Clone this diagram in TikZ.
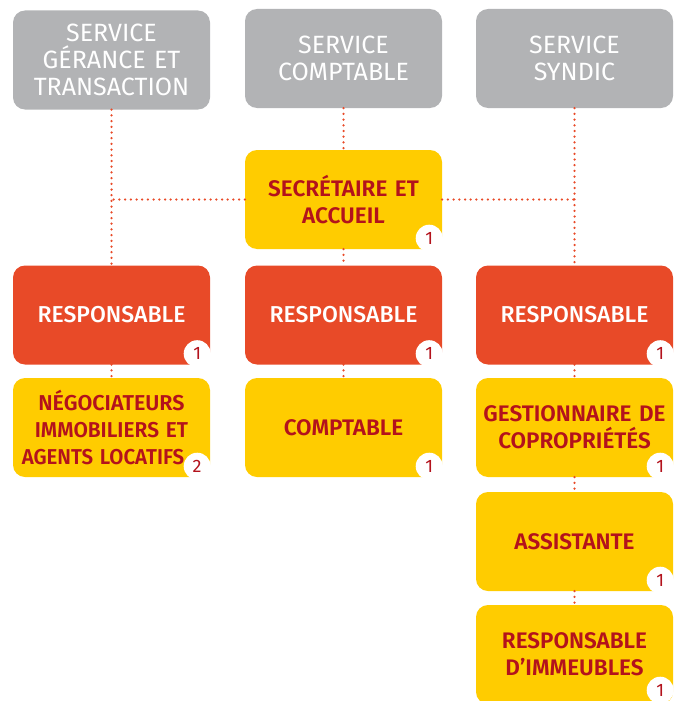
\documentclass[tikz,border=0pt]{standalone}
\usepackage{fontspec}
\setmainfont{Fira Sans}
\newfontfamily\firamed{Fira Sans}[UprightFont={* Medium}, BoldFont={* SemiBold}]
\usetikzlibrary{calc}
\definecolor{cgray}{HTML}{B2B3B5}
\definecolor{corange}{HTML}{E84A28}
\definecolor{cyellow}{HTML}{FFCC00}
\definecolor{cred}{HTML}{B3121C}
\definecolor{cdot}{HTML}{E84A28}
\tikzset{
  box/.style={rounded corners=12pt, minimum width=197pt, minimum height=99pt,
    align=center, inner sep=0pt, text width=195pt},
  graybox/.style={box, fill=cgray, text=white, font=\fontsize{25}{27}\selectfont},
  orangebox/.style={box, fill=corange, text=white, font=\firamed\fontsize{23}{27}\selectfont},
  yellowbox/.style={box, fill=cyellow, text=cred, font=\firamed\bfseries\fontsize{22.5}{27}\selectfont},
  badge/.style={circle, fill=white, minimum size=27pt, inner sep=0pt, text=cred,
    font=\fontsize{18}{18}\selectfont},
  dotline/.style={draw=cdot, line width=2.5pt, line cap=round, dash pattern=on 0pt off 5.7pt}
}
\begin{document}
\begin{tikzpicture}[x=1pt,y=-1pt]
\useasboundingbox (0,0) rectangle (674,701);
% top row
\node[graybox] (g1) at (111.5,60) {SERVICE\\GÉRANCE ET\\TRANSACTION};
\node[graybox] (g2) at (343.5,58.5) {SERVICE\\COMPTABLE};
\node[graybox] (g3) at (574.5,58.5) {SERVICE\\SYNDIC};
% secretary
\node[yellowbox] (sec) at (343.5,199.5) {SECRÉTAIRE ET\\ACCUEIL};
% responsables
\node[orangebox] (r1) at (111.5,315) {RESPONSABLE};
\node[orangebox] (r2) at (343.5,315) {RESPONSABLE};
\node[orangebox] (r3) at (574.5,315) {RESPONSABLE};
% second level
\node[yellowbox, font=\firamed\bfseries\fontsize{21.5}{27}\selectfont] (n1) at (111.5,427.5) {NÉGOCIATEURS\\\scalebox{0.97}[1]{IMMOBILIERS ET}\\\scalebox{0.95}[1]{AGENTS LOCATIFS}\hspace*{17pt}};
\node[yellowbox] (c2) at (343.5,427.5) {COMPTABLE};
\node[yellowbox] (s1) at (574.5,427.5) {GESTIONNAIRE DE\\COPROPRIÉTÉS};
\node[yellowbox] (s2) at (574.5,541.5) {ASSISTANTE};
\node[yellowbox] (s3) at (574.5,654.5) {RESPONSABLE\\D’IMMEUBLES};
% badges
\node[badge] (bsec) at ($(sec.south east)+(-13,-11)$) {1};
\node[badge] (br1) at ($(r1.south east)+(-13,-11)$) {1};
\node[badge] (br2) at ($(r2.south east)+(-13,-11)$) {1};
\node[badge] (br3) at ($(r3.south east)+(-13,-11)$) {1};
\node[badge] (bn1) at ($(n1.south east)+(-13,-11)$) {2};
\node[badge] (bc2) at ($(c2.south east)+(-13,-11)$) {1};
\node[badge] (bs1) at ($(s1.south east)+(-13,-11)$) {1};
\node[badge] (bs2) at ($(s2.south east)+(-13,-11)$) {1};
\node[badge] (bs3) at ($(s3.south east)+(-13,-14)$) {1};
% connectors
\coordinate (h1) at (g1.south |- sec.west);
\coordinate (h3) at (g3.south |- sec.east);
\draw[dotline] (g1.south) -- (r1.north);
\draw[dotline] (g3.south) -- (r3.north);
\draw[dotline] (g2.south) -- (sec.north);
\draw[dotline] (sec.south) -- (r2.north);
\draw[dotline] (sec.west) -- (h1);
\draw[dotline] (sec.east) -- (h3);
\draw[dotline] (r1.south) -- (n1.north);
\draw[dotline] (r2.south) -- (c2.north);
\draw[dotline] (r3.south) -- (s1.north);
\draw[dotline] (s1.south) -- (s2.north);
\draw[dotline] (s2.south) -- (s3.north);
\end{tikzpicture}
\end{document}
